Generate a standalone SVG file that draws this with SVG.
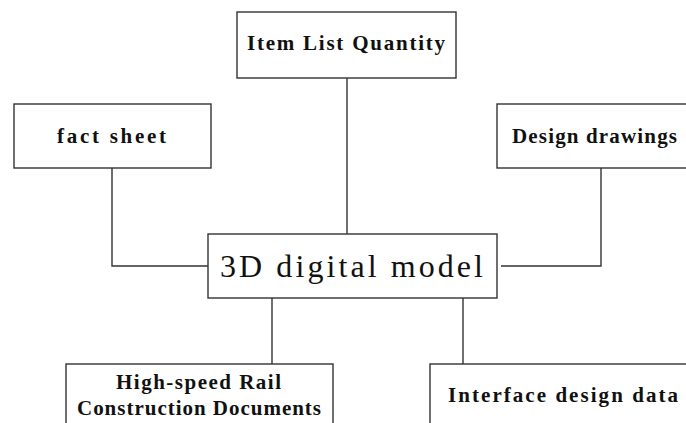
<svg xmlns="http://www.w3.org/2000/svg" width="686" height="423" viewBox="0 0 686 423">
<style>
.box{fill:#fff;stroke:#333;stroke-width:1.4}
.lbl{font-family:"Liberation Serif","DejaVu Serif",serif;font-size:21px;font-weight:bold;fill:#111}
.big{font-family:"Liberation Serif","DejaVu Serif",serif;font-size:32px;fill:#111}
.conn{fill:none;stroke:#333;stroke-width:1.4}
</style>
<rect width="686" height="423" fill="#fff"/>
<g id="connectors">
<path class="conn" d="M347 78V234"/>
<path class="conn" d="M112 168V266H208"/>
<path class="conn" d="M601 168V266H501"/>
<path class="conn" d="M272 298V364"/>
<path class="conn" d="M463 298V364"/>
</g>
<g id="item-list">
<rect class="box" x="237" y="12" width="219" height="66"/>
<text class="lbl" x="247" y="50" textLength="198" lengthAdjust="spacing">Item List Quantity</text>
</g>
<g id="fact-sheet">
<rect class="box" x="14" y="104" width="197" height="64"/>
<text class="lbl" x="57" y="143" textLength="109" lengthAdjust="spacing">fact sheet</text>
</g>
<g id="design-drawings">
<rect class="box" x="497" y="104" width="200" height="64"/>
<text class="lbl" x="512" y="143" textLength="165" lengthAdjust="spacing">Design drawings</text>
</g>
<g id="model">
<rect class="box" x="208" y="234" width="289" height="64"/>
<text class="big" x="220" y="277" textLength="263" lengthAdjust="spacing">3D digital model</text>
</g>
<g id="construction-docs">
<rect class="box" x="66" y="364" width="267" height="70"/>
<text class="lbl" x="116" y="389" textLength="165" lengthAdjust="spacing">High-speed Rail</text>
<text class="lbl" x="77" y="415" textLength="244" lengthAdjust="spacing">Construction Documents</text>
</g>
<g id="interface-data">
<rect class="box" x="430" y="364" width="270" height="70"/>
<text class="lbl" x="448" y="402" textLength="230" lengthAdjust="spacing">Interface design data</text>
</g>
</svg>
